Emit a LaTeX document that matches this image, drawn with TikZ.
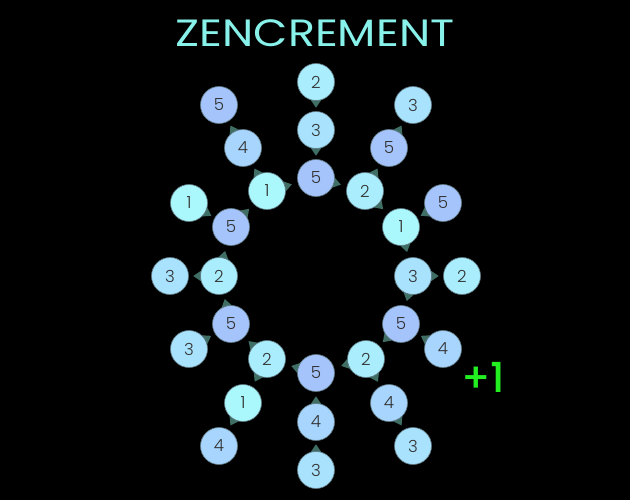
\documentclass[tikz,border=0pt]{standalone}
\usepackage{fontspec}
\setmainfont{Poppins Light}
\newfontfamily\headfont{Poppins}[FakeStretch=1.17]
\newfontfamily\scorefont{Poppins Medium}
\usetikzlibrary{calc}

\pgfdeclarelayer{back}
\pgfdeclarelayer{tips}
\pgfsetlayers{back,tips,main}

\definecolor{ballone}{RGB}{171,248,252}
\definecolor{balltwo}{RGB}{170,238,253}
\definecolor{ballthree}{RGB}{169,226,253}
\definecolor{ballfour}{RGB}{168,213,253}
\definecolor{ballfive}{RGB}{165,196,252}
\definecolor{ballrim}{RGB}{95,120,130}
\definecolor{tipcol}{RGB}{62,110,100}
\definecolor{headcol}{RGB}{136,242,234}
\definecolor{scorecol}{RGB}{34,238,34}

\tikzset{
  ball/.style={circle, draw=ballrim, line width=0.5pt, minimum size=27.75pt, inner sep=0pt,
    text={rgb,255:red,50;green,50;blue,50}, font=\fontsize{12.5}{12.5}\selectfont},
  b1/.style={ball, fill=ballone},
  b2/.style={ball, fill=balltwo},
  b3/.style={ball, fill=ballthree},
  b4/.style={ball, fill=ballfour},
  b5/.style={ball, fill=ballfive},
  pointy/.style={fill=tipcol}
}

% tip on the rim of #1, pointing at #2
\newcommand{\pointer}[2]{%
  \fill[pointy] ($(#1.center)!10.5pt!(#2.center)!6pt!90:(#2.center)$)
    -- ($(#1.center)!19.3pt!(#2.center)$)
    -- ($(#1.center)!10.5pt!(#2.center)!6pt!-90:(#2.center)$) -- cycle;}

\begin{document}
\begin{tikzpicture}[x=0.75pt,y=0.75pt,yscale=-1]
\begin{pgfonlayer}{back}
\fill[black] (0,0) rectangle (630,500);
\end{pgfonlayer}
\useasboundingbox (0,0) rectangle (630,500);

% Title
\node[text=headcol, font=\headfont\fontsize{28.5}{28.5}\selectfont] (heading) at (315,33) {ZENCREMENT};
% Score
\node[text=scorecol, font=\scorefont\fontsize{31}{31}\selectfont] (score) at (483,377) {+1};

% Ring
\node[b5] (ring12) at (316,178) {5};
\node[b2] (ring1) at (365,191) {2};
\node[b1] (ring2) at (401,227) {1};
\node[b3] (ring3) at (413,276) {3};
\node[b5] (ring4) at (401,324) {5};
\node[b2] (ring5) at (366,359) {2};
\node[b5] (ring6) at (316,373) {5};
\node[b2] (ring7) at (267,359) {2};
\node[b5] (ring8) at (231,324) {5};
\node[b2] (ring9) at (219,276) {2};
\node[b5] (ring10) at (231,227) {5};
\node[b1] (ring11) at (267,191) {1};

% Inner spokes
\node[b3] (mid12) at (316,130) {3};
\node[b5] (mid1) at (389,148) {5};
\node[b5] (mid2) at (443,203) {5};
\node[b2] (mid3) at (462,276) {2};
\node[b4] (mid4) at (443,349) {4};
\node[b4] (mid5) at (389,403) {4};
\node[b4] (mid6) at (316,422) {4};
\node[b1] (mid7) at (243,403) {1};
\node[b3] (mid8) at (189,349) {3};
\node[b3] (mid9) at (170,276) {3};
\node[b1] (mid10) at (189,203) {1};
\node[b4] (mid11) at (243,148) {4};

% Outer spokes
\node[b2] (far12) at (316,82) {2};
\node[b3] (far1) at (413,105) {3};
\node[b3] (far5) at (413,446) {3};
\node[b3] (far6) at (316,470) {3};
\node[b4] (far7) at (219,446) {4};
\node[b5] (far11) at (219,105) {5};

\begin{pgfonlayer}{tips}
\foreach \a/\b in {12/1,1/2,2/3,3/4,4/5,5/6,6/7,7/8,8/9,9/10,10/11,11/12}
  \pointer{ring\a}{ring\b};
\foreach \a/\b in {far12/mid12,mid12/ring12,ring1/mid1,mid1/far1,mid2/ring2,ring3/mid3,
  mid4/ring4,ring5/mid5,mid5/far5,far6/mid6,mid6/ring6,ring7/mid7,mid7/far7,
  mid8/ring8,ring9/mid9,mid10/ring10,ring11/mid11,mid11/far11}
  \pointer{\a}{\b};
\end{pgfonlayer}
\end{tikzpicture}
\end{document}
